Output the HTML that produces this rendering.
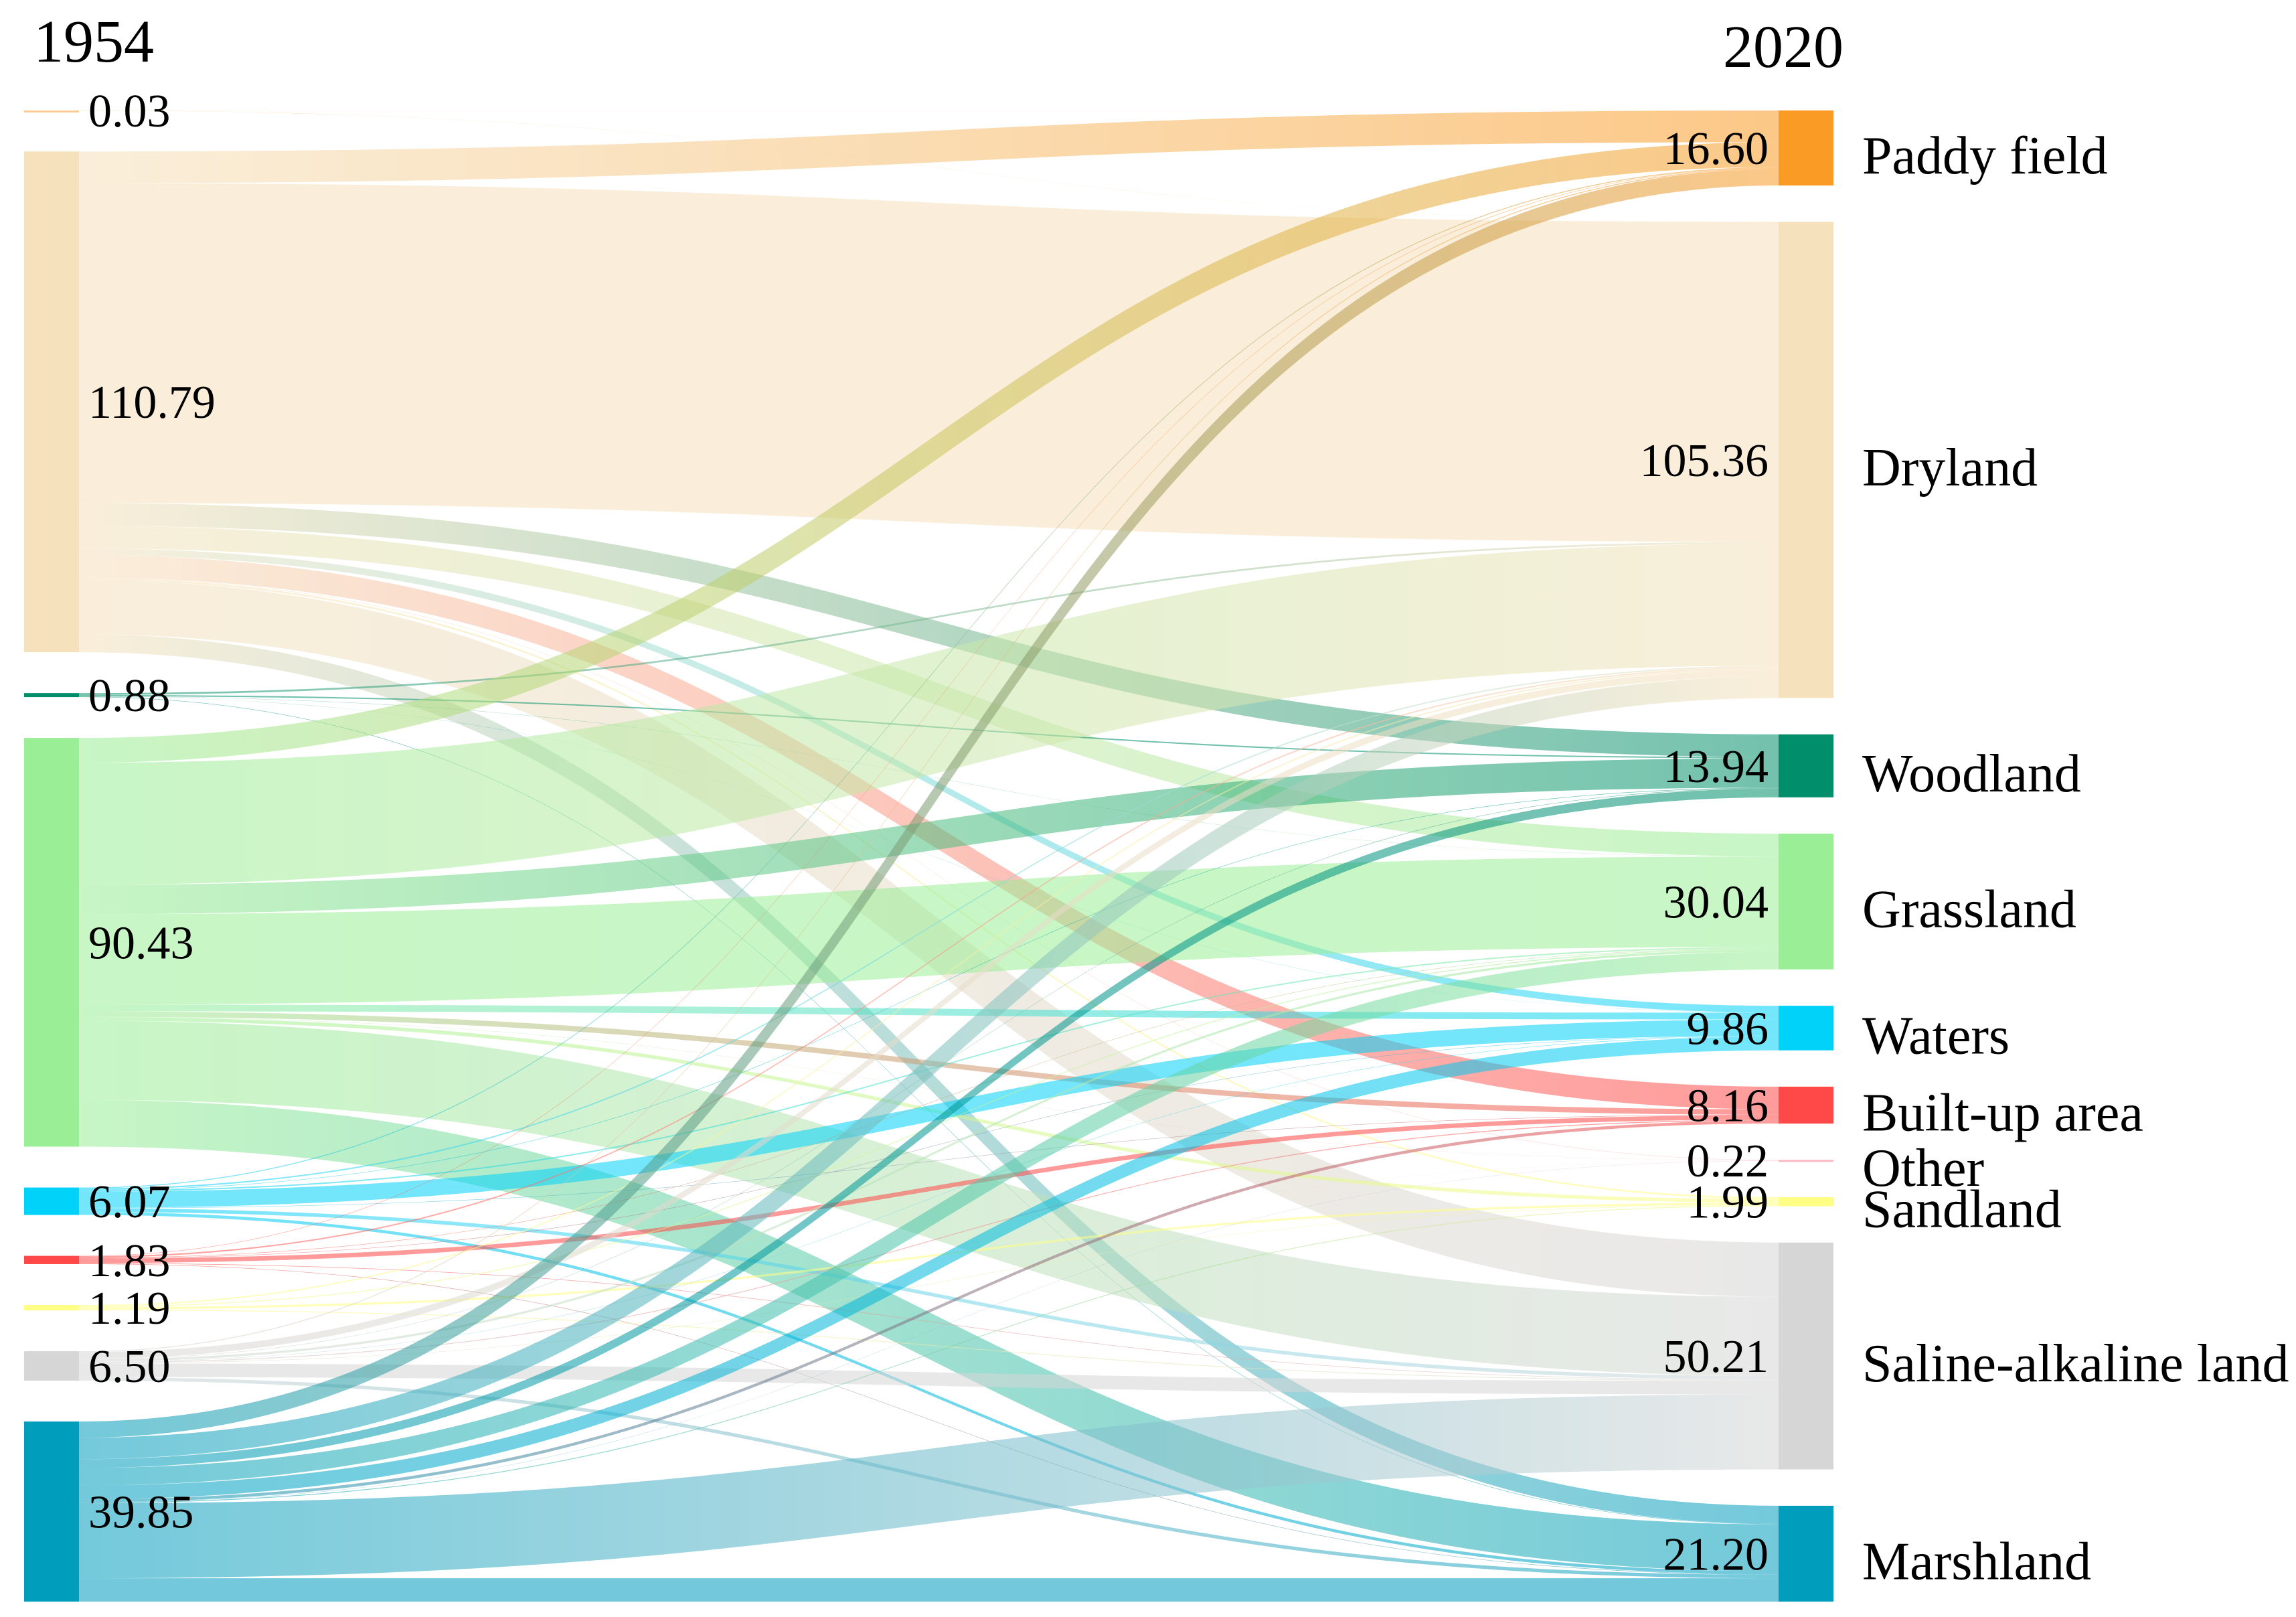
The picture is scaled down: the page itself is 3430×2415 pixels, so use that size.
<!DOCTYPE html>
<html><head><meta charset="utf-8">
<style>
html,body{margin:0;padding:0;background:#fff;}
svg{display:block;}
text{font-family:"Liberation Serif","Times New Roman",serif;fill:#000;}
</style></head>
<body>
<svg id="chart" width="3430" height="2415" viewBox="0 0 3430 2415" xmlns="http://www.w3.org/2000/svg">
<defs id="defs"></defs>
<g id="links"></g>
<g id="nodes"></g>
<g id="labels"></g>
<text x="50" y="92" font-size="90">1954</text>
<text x="2574" y="100" font-size="90">2020</text>
</svg>
<script>
const categories = ["Paddy field","Dryland","Woodland","Grassland","Waters","Built-up area","Other","Sandland","Saline-alkaline land","Marshland"];
const colors = ["#F99B25","#F5E1BC","#008F6A","#9AEE96","#00D2FA","#FF4848","#FFB8C4","#FFFF85","#D6D6D6","#009DBD"];
const leftCats = [0,1,2,3,4,5,7,8,9];
const leftValues = [0.03,110.79,0.88,90.43,6.07,1.83,1.19,6.50,39.85];
const leftLabels = ["0.03","110.79","0.88","90.43","6.07","1.83","1.19","6.50","39.85"];
const rightValues = [16.60,105.36,13.94,30.04,9.86,8.16,0.22,1.99,50.21,21.20];
const rightLabels = ["16.60","105.36","13.94","30.04","9.86","8.16","0.22","1.99","50.21","21.20"];
// flows: rows = left nodes (leftCats order), columns = categories (right)
const flowPaddy     = [0.01,0.02,0,0,0,0,0,0,0,0];
const flowDryland   = [7.0,70.79,5.0,5.0,1.5,5.0,0.1,0.4,12.0,4.0];
const flowWoodland  = [0,0.4,0.3,0.05,0.03,0,0,0,0,0.1];
const flowGrassland = [5.5,27,6.5,20,1.5,1.2,0.05,0.8,17.5,10.38];
const flowWaters    = [0.2,0.3,0.1,0.3,3.6,0.1,0,0,0.8,0.67];
const flowBuilt     = [0.1,0.3,0,0.1,0.1,1.0,0,0,0.13,0.1];
const flowSand      = [0,0.3,0,0.2,0,0,0,0.5,0.19,0];
const flowSaline    = [0.2,1.5,0.1,0.5,0.1,0.2,0.02,0.1,3.0,0.78];
const flowMarsh     = [3.59,4.75,1.94,3.89,3.03,0.66,0.05,0.19,16.58,5.17];
const flows = [flowPaddy,flowDryland,flowWoodland,flowGrassland,flowWaters,flowBuilt,flowSand,flowSaline,flowMarsh];

const NS="http://www.w3.org/2000/svg";
const K=6.75, TOP=165, BOTTOM=2392;
const LX0=36, LX1=118, RX0=2657, RX1=2739;
function layout(vals){
  const tot=vals.reduce((a,b)=>a+b,0);
  const gap=(BOTTOM-TOP-tot*K)/(vals.length-1);
  let y=TOP; return vals.map(v=>{const r={y0:y,y1:y+v*K}; y+=v*K+gap; return r;});
}
const L=layout(leftValues), R=layout(rightValues);
const svg=document.getElementById('chart');
const gL=document.getElementById('links'), gN=document.getElementById('nodes'), gT=document.getElementById('labels'), defs=document.getElementById('defs');
function mk(t,a){const e=document.createElementNS(NS,t);for(const k in a)e.setAttribute(k,a[k]);return e;}
// links
const rOff=R.map(r=>r.y0);
const lOff=L.map(l=>l.y0);
// target offsets: ordered by source order -> iterate sources in order for each target
const tStart=[];
for(let i=0;i<flows.length;i++){tStart.push([]);}
for(let j=0;j<categories.length;j++){
  let y=R[j].y0;
  for(let i=0;i<flows.length;i++){tStart[i][j]=y; y+=flows[i][j]*K;}
}
let gid=0;
for(let i=0;i<flows.length;i++){
  let sy=L[i].y0;
  for(let j=0;j<categories.length;j++){
    const v=flows[i][j]; if(v<=0) continue;
    const w=v*K, ty=tStart[i][j];
    const x0=LX1, x1=RX0, xm=(x0+x1)/2;
    const id='g'+(gid++);
    const gr=mk('linearGradient',{id:id,x1:x0,x2:x1,y1:0,y2:0,gradientUnits:'userSpaceOnUse'});
    gr.appendChild(mk('stop',{offset:'0','stop-color':colors[leftCats[i]]}));
    gr.appendChild(mk('stop',{offset:'1','stop-color':colors[j]}));
    defs.appendChild(gr);
    const d=`M${x0},${sy} C${xm},${sy} ${xm},${ty} ${x1},${ty} L${x1},${ty+w} C${xm},${ty+w} ${xm},${sy+w} ${x0},${sy+w} Z`;
    const p=mk('path',{d:d,fill:`url(#${id})`,'fill-opacity':'0.55'});
    
    
    gL.appendChild(p);
    sy+=w;
  }
}
// nodes
L.forEach((n,i)=>{
  const h=Math.max(n.y1-n.y0,3);
  const r=mk('rect',{x:LX0,y:n.y0,width:LX1-LX0,height:h,fill:colors[leftCats[i]],'fill-opacity':leftCats[i]==0?0.5:1});
  
  
  gN.appendChild(r);
  const t=mk('text',{x:132,y:(n.y0+n.y1)/2+24,'font-size':70});
  t.textContent=leftLabels[i];
  
  
  gT.appendChild(t);
});
R.forEach((n,j)=>{
  const h=Math.max(n.y1-n.y0,3);
  const r=mk('rect',{x:RX0,y:n.y0,width:RX1-RX0,height:h,fill:colors[j]});
  
  
  gN.appendChild(r);
  const c=(n.y0+n.y1)/2;
  const t=mk('text',{x:2642,y:c+24,'font-size':70,'text-anchor':'end'});
  t.textContent=rightLabels[j];
  
  
  gT.appendChild(t);
  const t2=mk('text',{x:2782,y:c+38,'font-size':80});
  t2.textContent=categories[j];
  
  
  gT.appendChild(t2);
});
</script>
</body></html>
